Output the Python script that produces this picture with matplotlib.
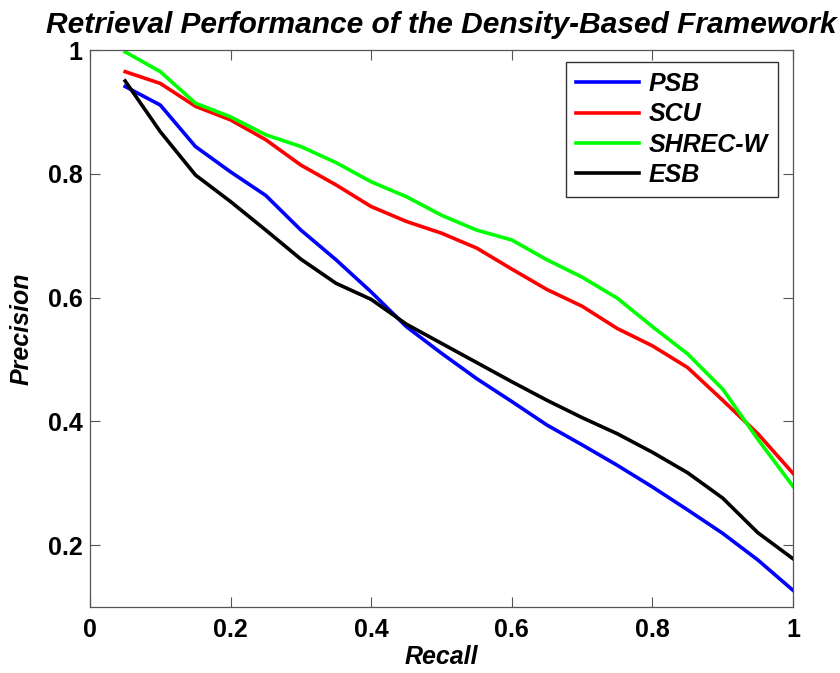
import matplotlib
matplotlib.use("Agg")
import matplotlib.pyplot as plt

recall = [0.05, 0.10, 0.15, 0.20, 0.25, 0.30, 0.35, 0.40, 0.45, 0.50,
          0.55, 0.60, 0.65, 0.70, 0.75, 0.80, 0.85, 0.90, 0.95, 1.00]
psb = [0.941, 0.911, 0.844, 0.803, 0.765, 0.709, 0.661, 0.609, 0.553, 0.510,
       0.469, 0.432, 0.394, 0.362, 0.329, 0.294, 0.257, 0.219, 0.176, 0.127]
scu = [0.965, 0.946, 0.909, 0.887, 0.855, 0.814, 0.782, 0.747, 0.723, 0.704,
       0.680, 0.646, 0.613, 0.586, 0.550, 0.522, 0.487, 0.434, 0.380, 0.316]
shrec_w = [0.997, 0.965, 0.914, 0.892, 0.863, 0.844, 0.818, 0.787, 0.763, 0.733,
           0.709, 0.693, 0.661, 0.633, 0.599, 0.553, 0.509, 0.452, 0.371, 0.295]
esb = [0.950, 0.868, 0.798, 0.755, 0.709, 0.662, 0.623, 0.597, 0.557, 0.526,
       0.495, 0.464, 0.434, 0.406, 0.380, 0.350, 0.317, 0.276, 0.220, 0.178]
series_names = ["PSB", "SCU", "SHREC-W", "ESB"]
series_colors = ["#0000ff", "#ff0000", "#00ff00", "#000000"]
xticks = [0, 0.2, 0.4, 0.6, 0.8, 1.0]
xticklabels = ["0", "0.2", "0.4", "0.6", "0.8", "1"]
yticks = [0.2, 0.4, 0.6, 0.8, 1.0]
yticklabels = ["0.2", "0.4", "0.6", "0.8", "1"]

plt.rcParams['font.family'] = ['Liberation Sans', 'DejaVu Sans']

W, H = 840, 673
fig = plt.figure(figsize=(8.4, 6.73), dpi=100)
ax = fig.add_axes([90/W, 1-607/H, (793-90)/W, (607-50)/H])

for name, vals, col in zip(series_names, [psb, scu, shrec_w, esb], series_colors):
    ax.plot(recall, vals, color=col, linewidth=2.6, label=name)

ax.set_xlim(0, 1)
ax.set_ylim(0.1, 1)
ax.set_xticks(xticks)
ax.set_xticklabels(xticklabels)
ax.set_yticks(yticks)
ax.set_yticklabels(yticklabels)
ax.tick_params(direction='in', length=7, width=0.8, color='#555555',
               top=True, right=True, labelsize=18)
ax.tick_params(axis='x', pad=8)
ax.tick_params(axis='y', pad=5.5)
for lab in ax.get_xticklabels() + ax.get_yticklabels():
    lab.set_fontweight('bold')
for sp in ax.spines.values():
    sp.set_color('#555555')
    sp.set_linewidth(0.9)

ax.set_xlabel("Recall", fontsize=18, fontweight='bold', fontstyle='italic', labelpad=2)
ax.set_ylabel("Precision", fontsize=18, fontweight='bold', fontstyle='italic', labelpad=10)
ax.set_title("Retrieval Performance of the Density-Based Framework", fontsize=21.5,
             fontweight='bold', fontstyle='italic', pad=12)

leg = ax.legend(loc='upper right', bbox_to_anchor=(778/W, 1-62/H), bbox_transform=fig.transFigure,
                prop={'weight': 'bold', 'style': 'italic', 'size': 18},
                fancybox=False, edgecolor='#333333', framealpha=1, handlelength=2.5,
                handletextpad=0.4, borderaxespad=0.0, labelspacing=0.25,
                borderpad=0.4)
leg.get_frame().set_linewidth(1.0)

fig.savefig("out.png", dpi=100)
